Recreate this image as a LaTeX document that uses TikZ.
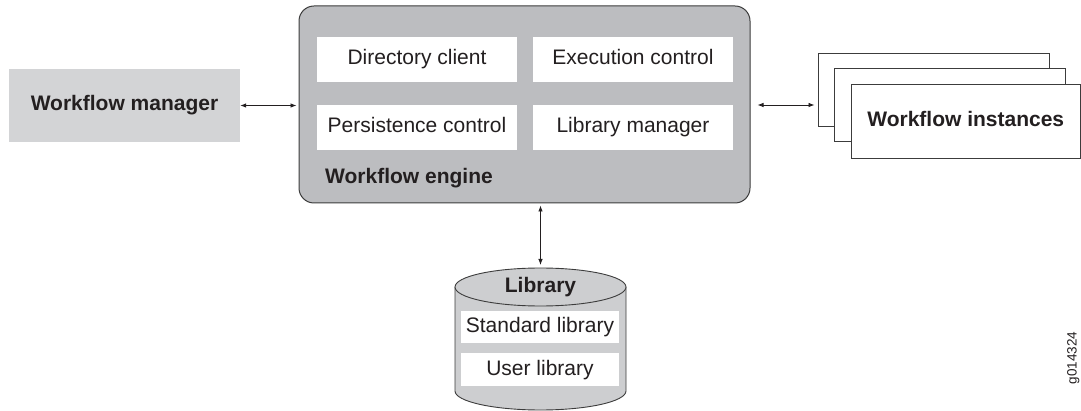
\documentclass[tikz,border=0pt]{standalone}
\usepackage{fontspec}
\setmainfont{Liberation Sans}
\usetikzlibrary{arrows.meta}
\definecolor{inkc}{HTML}{231F20}
\definecolor{enginefill}{HTML}{BCBDC0}
\definecolor{mgrfill}{HTML}{D3D4D6}
\definecolor{cylfill}{HTML}{CDCED0}
\definecolor{edgec}{HTML}{3C3C3C}
\tikzset{
  every node/.style={text=inkc, font=\fontsize{21}{25}\selectfont, text height=15pt, text depth=4pt},
  plainbox/.style={fill=white, draw=none, inner sep=0pt},
  stackbox/.style={fill=white, draw=edgec, line width=0.9pt, inner sep=0pt,
    minimum width=231pt, minimum height=73pt},
  link/.style={{Latex[length=6pt,width=4.5pt]}-{Latex[length=6pt,width=4.5pt]}, line width=0.8pt, draw=inkc},
}
\begin{document}
\begin{tikzpicture}[x=1pt,y=-1pt]
\useasboundingbox (0,0) rectangle (1081,411);

% workflow manager
\node[fill=mgrfill, inner sep=0pt, minimum width=231pt, minimum height=73pt,
  font=\fontsize{21}{25}\selectfont\bfseries] (wm) at (124.5,105.5) {Workflow manager};

% workflow engine with its four parts
\node[fill=enginefill, draw=edgec, line width=1pt, rounded corners=15pt,
  minimum width=451pt, minimum height=197pt, inner sep=0pt] (engine) at (524.5,104.5) {};
\node[plainbox, minimum width=200pt, minimum height=45pt] (dc) at (417,59.5) {Directory client};
\node[plainbox, minimum width=200pt, minimum height=45pt] (ec) at (633,59.5) {Execution control};
\node[plainbox, minimum width=200pt, minimum height=45pt] (pc) at (417,127.5) {Persistence control};
\node[plainbox, minimum width=200pt, minimum height=45pt] (lm) at (633,127.5) {Library manager};
\node[anchor=west, inner sep=0pt, font=\fontsize{21}{25}\selectfont\bfseries] (wel) at (325,178) {Workflow engine};

% stacked workflow instances
\node[stackbox] (back) at (933.5,89.5) {};
\node[stackbox] (middle) at (949.5,105) {};
\node[stackbox, minimum width=229.5pt, minimum height=74pt,
  font=\fontsize{21}{25}\selectfont\bfseries] (front) at (965.75,121) {Workflow instances};

% library cylinder
\fill[cylfill] (455,287) -- (455,391) arc[start angle=180, end angle=0, x radius=85.5, y radius=19]
  -- (626,287) -- cycle;
\draw[edgec, line width=0.9pt] (455,287) -- (455,391) arc[start angle=180, end angle=0, x radius=85.5, y radius=19]
  -- (626,287);
\draw[edgec, line width=0.9pt, fill=cylfill] (540.5,287) ellipse[x radius=85.5, y radius=19];
\coordinate (libtop) at (540.5,268);
\node[inner sep=0pt, font=\fontsize{21}{25}\selectfont\bfseries] (libl) at (540.5,287) {Library};
\node[plainbox, minimum width=158pt, minimum height=32pt] (stdlib) at (540,327) {Standard library};
\node[plainbox, minimum width=158pt, minimum height=33pt] (usrlib) at (540,369.5) {User library};

% connectors
\draw[link, shorten >=2pt] (wm.east) -- (wm.east -| engine.west);
\draw[link, shorten <=7pt, shorten >=3pt] (engine.east |- middle.west) -- (back.west |- middle.west);
\draw[link, shorten <=2pt, shorten >=3pt] (engine.south -| libtop) -- (libtop);

% figure code
\node[rotate=90, inner sep=0pt, text height=10pt, text depth=3pt,
  font=\fontsize{13.5}{16}\selectfont] (code) at (1073,358) {g014324};
\end{tikzpicture}
\end{document}
